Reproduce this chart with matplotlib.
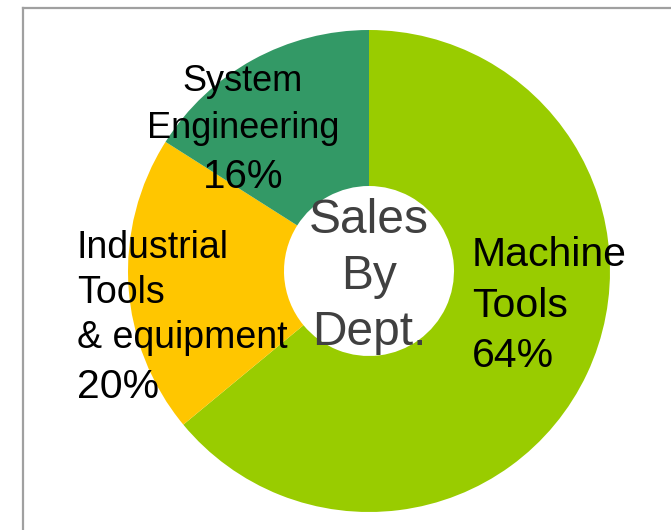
import matplotlib
matplotlib.use('Agg')
import matplotlib.pyplot as plt
from matplotlib.lines import Line2D

plt.rcParams['font.family'] = ['Liberation Sans', 'DejaVu Sans']

depts = ['Machine\nTools', 'Industrial\nTools\n& equipment', 'System\nEngineering']
shares = [64, 20, 16]
colors = ['#99cc00', '#ffc600', '#339966']
centre_title = 'Sales\nBy\nDept.'

W, H = 671, 530
fig = plt.figure(figsize=(W / 100, H / 100), dpi=100)

# donut centre / radius in pixels
cx, cy, r = 369, 271, 241
ax = fig.add_axes([(cx - r) / W, (H - cy - r) / H, 2 * r / W, 2 * r / H])
ax.pie(shares, colors=colors, startangle=90, counterclock=False,
       radius=1, wedgeprops=dict(width=1 - 85 / r, linewidth=0))
ax.set_xlim(-1, 1)
ax.set_ylim(-1, 1)
ax.set_aspect('equal')
ax.axis('off')

def px2data(x, y):
    return (x - cx) / r, (cy - y) / r

# (x, name last baseline, pct baseline, align, name size, pct size, linespacing)
spots = [(472, 317, 367, 'left', 29.5, 29.5, 1.42),
         (77, 348, 398, 'left', 27, 29.5, 1.33),
         (243, 138, 188, 'center', 26, 29, 1.45)]
for name, pct, (x, yn, yp, ha, fs, fp, ls) in zip(depts, shares, spots):
    dx, dy = px2data(x, yn)
    ax.text(dx, dy, name, ha=ha, va='baseline', fontsize=fs,
            linespacing=ls, color='black', multialignment=ha)
    dx, dy = px2data(x, yp)
    ax.text(dx, dy, f'{pct}%', ha=ha, va='baseline', fontsize=fp, color='black')

dx, dy = px2data(cx, 345)
ax.text(dx, dy, centre_title, ha='center', va='baseline', fontsize=34.5,
        linespacing=1.32, color='#404040', multialignment='center')

# frame around the slide (cut off at right and bottom)
fig.add_artist(Line2D([22.5 / W, 22.5 / W], [0, 1 - 8 / H], color='#a0a0a0', lw=1.6))
fig.add_artist(Line2D([22.5 / W, 1], [1 - 8 / H, 1 - 8 / H], color='#a0a0a0', lw=1.6))

fig.savefig('out.png', dpi=100)
